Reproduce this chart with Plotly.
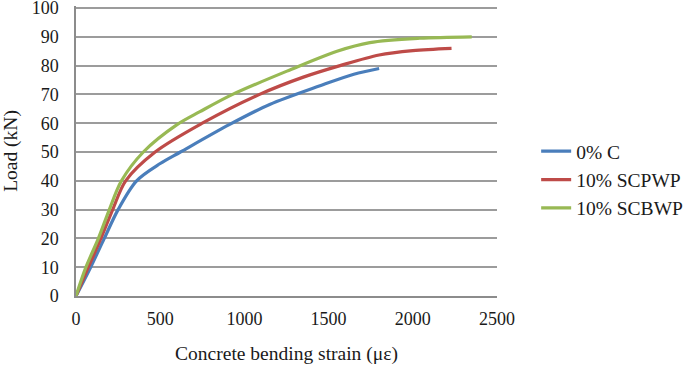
import plotly.graph_objects as go

series_names = ["0% C", "10% SCPWP", "10% SCBWP"]
blue_x = [0, 87, 168, 250, 360, 500, 620, 910, 1150, 1449, 1650, 1800]
blue_y = [0, 10, 20, 30, 40, 46, 50, 59.5, 66.5, 73, 77, 79]
red_x = [0, 73, 148, 218, 295, 470, 750, 1090, 1350, 1568, 1800, 2000, 2230]
red_y = [0, 10, 20, 30, 40, 50, 60, 70, 76, 80, 83.7, 85.2, 86]
green_x = [0, 59, 133, 198, 270, 400, 600, 736, 930, 1270, 1550, 1745, 2040, 2350]
green_y = [0, 10, 20, 30, 40, 50, 59.5, 64, 70, 78.5, 85, 88, 89.5, 90]
y_ticks = [0, 10, 20, 30, 40, 50, 60, 70, 80, 90, 100]
x_ticks = [0, 500, 1000, 1500, 2000, 2500]
colors = ["#4a7ebb", "#be4b48", "#98b954"]

fig = go.Figure()
for name, xs, ys, c in zip(series_names, [blue_x, red_x, green_x], [blue_y, red_y, green_y], colors):
    fig.add_trace(go.Scatter(x=xs, y=ys, mode="lines", name=name,
                             line=dict(color=c, width=3.2, shape="spline", smoothing=0.9)))

family = "Liberation Serif, Times New Roman, serif"
tick_font = dict(family=family, size=18, color="#1a1a1a")
big_font = dict(family=family, size=19.5, color="#1a1a1a")
fig.update_layout(
    width=685, height=369,
    margin=dict(l=76, r=188, t=6, b=73, autoexpand=False),
    plot_bgcolor="white", paper_bgcolor="white",
    font=tick_font,
    xaxis=dict(range=[0, 2500], tickvals=x_ticks, showgrid=False, zeroline=False,
               showline=True, linecolor="#8c8c8c", linewidth=1.5, automargin=False,
               title=dict(text="Concrete bending strain (με)", font=big_font, standoff=18),
               ticks="outside", ticklen=6, tickcolor="rgba(0,0,0,0)", tickfont=tick_font,
               ticklabeloverflow="allow"),
    yaxis=dict(range=[0, 100.7], tickvals=y_ticks, showgrid=True, gridcolor="#9c9c9c", gridwidth=1.6,
               zeroline=False, showline=True, linecolor="#8c8c8c", linewidth=1.5, automargin=False,
               title=dict(text="Load (kN)", font=big_font, standoff=15),
               ticks="outside", ticklen=12, tickcolor="rgba(0,0,0,0)", tickfont=tick_font,
               ticklabeloverflow="allow"),
    legend=dict(x=1.093, xanchor="left", y=0.40, yanchor="middle",
                font=big_font, itemwidth=30, bgcolor="rgba(0,0,0,0)"),
)
fig.write_html("out.html", config={"displayModeBar": False},
               post_script="document.body.style.margin='0';document.body.style.overflow='hidden';")
